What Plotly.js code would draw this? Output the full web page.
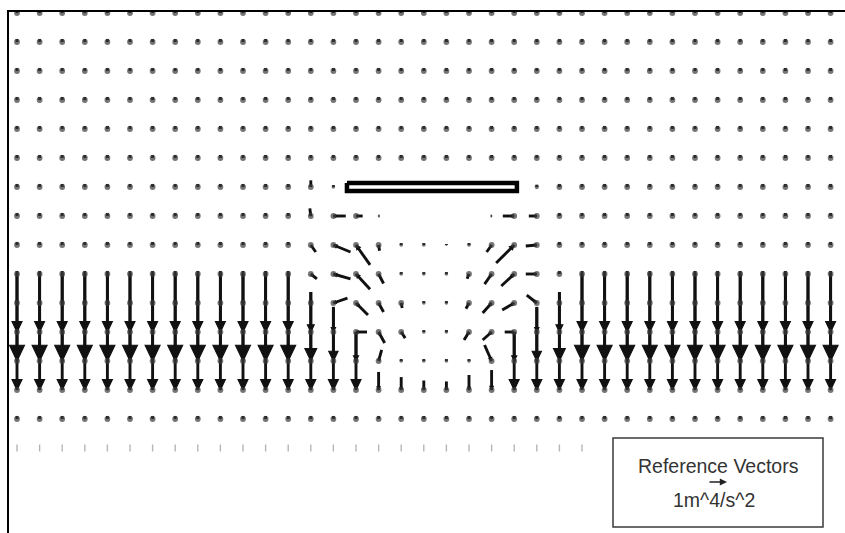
<!DOCTYPE html>
<html><head><meta charset="utf-8">
<script src="https://cdn.plot.ly/plotly-3.0.1.min.js"></script>
<style>html,body{margin:0;padding:0;background:#fff}#chart{width:845px;height:533px}</style>
</head><body><div id="chart"></div>
<script>
// ---------------- DATA ----------------
// grid columns (x) and rows (y, downward)
const colX = [0,1,2,3,4,5,6,7,8,9,10,11,12,13,14,15,16,17,18,19,20,21,22,23,24,25,26,27,28,29,30,31,32,33,34,35,36];
const rowY = [0,-1,-2,-3,-4,-5,-6,-7,-8,-9,-10,-11,-12,-13,-14,-15];

// vector components (m^4/s^2), one array per grid row; columns c0..c12 | c13..c24 | c25..c36
const uRow0  = [0,0,0,0,0,0,0,0,0,0,0,0,0, 0,0,0,0,0,0,0,0,0,0,0,0, 0,0,0,0,0,0,0,0,0,0,0,0];
const vRow0  = [-.16,-.16,-.16,-.16,-.16,-.16,-.16,-.16,-.16,-.16,-.16,-.16,-.16, -.16,-.16,-.16,-.16,-.16,-.16,-.16,-.16,-.16,-.16,-.16,-.16, -.16,-.16,-.16,-.16,-.16,-.16,-.16,-.16,-.16,-.16,-.16,-.16];
const uRow1  = [0,0,0,0,0,0,0,0,0,0,0,0,0, 0,0,0,0,0,0,0,0,0,0,0,0, 0,0,0,0,0,0,0,0,0,0,0,0];
const vRow1  = [-.16,-.16,-.16,-.16,-.16,-.16,-.16,-.16,-.16,-.16,-.16,-.16,-.16, -.16,-.16,-.16,-.16,-.16,-.16,-.16,-.16,-.16,-.16,-.16,-.16, -.16,-.16,-.16,-.16,-.16,-.16,-.16,-.16,-.16,-.16,-.16,-.16];
const uRow2  = [0,0,0,0,0,0,0,0,0,0,0,0,0, 0,0,0,0,0,0,0,0,0,0,0,0, 0,0,0,0,0,0,0,0,0,0,0,0];
const vRow2  = [-.16,-.16,-.16,-.16,-.16,-.16,-.16,-.16,-.16,-.16,-.16,-.16,-.16, -.16,-.16,-.16,-.16,-.16,-.16,-.16,-.16,-.16,-.16,-.16,-.16, -.16,-.16,-.16,-.16,-.16,-.16,-.16,-.16,-.16,-.16,-.16,-.16];
const uRow3  = [0,0,0,0,0,0,0,0,0,0,0,0,0, 0,0,0,0,0,0,0,0,0,0,0,0, 0,0,0,0,0,0,0,0,0,0,0,0];
const vRow3  = [-.16,-.16,-.16,-.16,-.16,-.16,-.16,-.16,-.16,-.16,-.16,-.16,-.16, -.16,-.16,-.16,-.16,-.16,-.16,-.16,-.16,-.16,-.16,-.16,-.16, -.16,-.16,-.16,-.16,-.16,-.16,-.16,-.16,-.16,-.16,-.16,-.16];
const uRow4  = [0,0,0,0,0,0,0,0,0,0,0,0,0, 0,0,0,0,0,0,0,0,0,0,0,0, 0,0,0,0,0,0,0,0,0,0,0,0];
const vRow4  = [-.16,-.16,-.16,-.16,-.16,-.16,-.16,-.16,-.16,-.16,-.16,-.16,-.16, -.16,-.16,-.16,-.16,-.16,-.16,-.16,-.16,-.16,-.16,-.16,-.16, -.16,-.16,-.16,-.16,-.16,-.16,-.16,-.16,-.16,-.16,-.16,-.16];
const uRow5  = [0,0,0,0,0,0,0,0,0,0,0,0,0, 0,0,0,0,0,0,0,0,0,0,0,0, 0,0,0,0,0,0,0,0,0,0,0,0];
const vRow5  = [-.16,-.16,-.16,-.16,-.16,-.16,-.16,-.16,-.16,-.16,-.16,-.16,-.16, -.16,-.16,-.16,-.16,-.16,-.16,-.16,-.16,-.16,-.16,-.16,-.16, -.16,-.16,-.16,-.16,-.16,-.16,-.16,-.16,-.16,-.16,-.16,-.16];
const uRow6  = [0,0,0,0,0,0,0,0,0,0,0,0,0, 0,0,0,0,0,0,0,0,0,0,0,0, 0,0,0,0,0,0,0,0,0,0,0,0];
const vRow6  = [-.16,-.16,-.16,-.16,-.16,-.16,-.16,-.16,-.16,-.16,-.16,-.16,-.16, -.35,-.1,0,0,0,0,0,0,0,0,-.12,-.16, -.16,-.16,-.16,-.16,-.16,-.16,-.16,-.16,-.16,-.16,-.16,-.16];
const uRow7  = [0,0,0,0,0,0,0,0,0,0,0,0,0, .05,-.65,-.35,-.05,0,0,0,0,.05,.6,.42,0, 0,0,0,0,0,0,0,0,0,0,0,0];
const vRow7  = [-.16,-.16,-.16,-.16,-.16,-.16,-.16,-.16,-.16,-.16,-.16,-.16,-.16, -.4,0,0,0,0,0,0,0,0,0,0,-.16, -.16,-.16,-.16,-.16,-.16,-.16,-.16,-.16,-.16,-.16,-.16,-.16];
const uRow8  = [0,0,0,0,0,0,0,0,0,0,0,0,0, -.26,-.9,-.74,-.05,0,0,0,0,.26,.95,.58,0, 0,0,0,0,0,0,0,0,0,0,0,0];
const vRow8  = [-.16,-.16,-.16,-.16,-.16,-.16,-.16,-.16,-.16,-.16,-.16,-.16,-.16, .37,.37,1.05,.3,-.1,-.1,-.05,-.1,.37,.95,.05,-.16, -.16,-.16,-.16,-.16,-.16,-.16,-.16,-.16,-.16,-.16,-.16,-.16];
const uRow9  = [0,0,0,0,0,0,0,0,0,0,0,0,0, -.32,-.9,-.74,-.26,0,0,0,.1,.37,.68,.58,0, 0,0,0,0,0,0,0,0,0,0,0,0];
const vRow9  = [-.16,-.16,-.16,-.16,-.16,-.16,-.16,-.16,-.16,-.16,-.16,-.16,-.16, .26,.26,.8,.5,-.1,-.1,-.1,.25,.53,.63,0,-.16, -.16,-.16,-.16,-.16,-.16,-.16,-.16,-.16,-.16,-.16,-.16,-.16];
const uRow10 = [0,0,0,0,0,0,0,0,0,0,0,0,0, 0,-.74,-.63,-.26,-.05,0,0,.16,.47,.63,.53,0, 0,0,0,0,0,0,0,0,0,0,0,0];
const vRow10 = [-.16,-.16,-.16,-.16,-.16,-.16,-.16,-.16,-.16,-.16,-.16,-.16,-.16, -.16,-.26,.63,.47,.26,-.1,-.1,.3,.53,.37,-.42,-.16, -.16,-.16,-.16,-.16,-.16,-.16,-.16,-.16,-.16,-.16,-.16,-.16];
const uRow11 = [0,0,0,0,0,0,0,0,0,0,0,0,0, 0,0,-.58,-.32,-.21,0,0,.26,.47,.5,0,0, 0,0,0,0,0,0,0,0,0,0,0,0];
const vRow11 = [-3.05,-3.05,-3.05,-3.05,-3.05,-3.05,-3.05,-3.05,-3.05,-3.05,-3.05,-3.05,-3.05, -2.1,-1.3,0,.58,.32,-.1,-.1,.42,.42,0,-1.3,-2.1, -3.05,-3.05,-3.05,-3.05,-3.05,-3.05,-3.05,-3.05,-3.05,-3.05,-3.05,-3.05];
const uRow12 = [0,0,0,0,0,0,0,0,0,0,0,0,0, 0,0,0,-.16,0,0,0,0,.37,0,0,0, 0,0,0,0,0,0,0,0,0,0,0,0];
const vRow12 = [-4.6,-4.6,-4.6,-4.6,-4.6,-4.6,-4.6,-4.6,-4.6,-4.6,-4.6,-4.6,-4.6, -3.63,-2.85,-1.53,-.58,-.1,-.1,-.1,-.1,-.84,-1.53,-2.85,-3.63, -4.6,-4.6,-4.6,-4.6,-4.6,-4.6,-4.6,-4.6,-4.6,-4.6,-4.6,-4.6];
const uRow13 = [0,0,0,0,0,0,0,0,0,0,0,0,0, 0,0,0,0,0,0,0,0,0,0,0,0, 0,0,0,0,0,0,0,0,0,0,0,0];
const vRow13 = [-3.05,-3.05,-3.05,-3.05,-3.05,-3.05,-3.05,-3.05,-3.05,-3.05,-3.05,-3.05,-3.05, -3.05,-3.05,-3.05,-.95,-.68,-.5,-.45,-.79,-1.05,-3.05,-3.05,-3.05, -3.05,-3.05,-3.05,-3.05,-3.05,-3.05,-3.05,-3.05,-3.05,-3.05,-3.05,-3.05];
const uRow14 = [0,0,0,0,0,0,0,0,0,0,0,0,0, 0,0,0,0,0,0,0,0,0,0,0,0, 0,0,0,0,0,0,0,0,0,0,0,0];
const vRow14 = [-.16,-.16,-.16,-.16,-.16,-.16,-.16,-.16,-.16,-.16,-.16,-.16,-.16, -.16,-.16,-.16,-.16,-.16,-.16,-.16,-.16,-.16,-.16,-.16,-.16, -.16,-.16,-.16,-.16,-.16,-.16,-.16,-.16,-.16,-.16,-.16,-.16];
const uRow15 = [0,0,0,0,0,0,0,0,0,0,0,0,0, 0,0,0,0,0,0,0,0,0,0,0,0, 0,0,0,0,0,0,0,0,0,0,0,0];
const vRow15 = [-.16,-.16,-.16,-.16,-.16,-.16,-.16,-.16,-.16,-.16,-.16,-.16,-.16, -.16,-.16,-.16,-.16,-.16,-.16,-.16,-.16,-.16,-.16,-.16,-.16, -.16,-.16,-.16,-.16,-.16,-.16,-.16,-.16,-.16,-.16,-.16,-.16];

// plate (structure) outline
const plateX = [14.6, 22.12];
const plateY = [-5.86, -6.14];

// reference vector
const refMagnitude = 1;
const refLabel = '1m^4/s^2';
const refTitle = 'Reference Vectors';

// ---------------- DRAWING ----------------
const uRows = [uRow0,uRow1,uRow2,uRow3,uRow4,uRow5,uRow6,uRow7,uRow8,uRow9,uRow10,uRow11,uRow12,uRow13,uRow14,uRow15];
const vRows = [vRow0,vRow1,vRow2,vRow3,vRow4,vRow5,vRow6,vRow7,vRow8,vRow9,vRow10,vRow11,vRow12,vRow13,vRow14,vRow15];

const W = 845, H = 533, ML = 9, MT = 12;
const PW = W - ML, PH = H - MT;
const PX_PER_COL = 22.6, PX_PER_ROW = 29;   // axis scale
const SCALE_PX = 19;                        // px per 1 m^4/s^2
const HEAD_LEN = 0.18, HEAD_HALF = 0.085;
const LIGHT_ROW = 15;

const xr0 = -8 / PX_PER_COL, xr1 = xr0 + PW / PX_PER_COL;
const yr1 = 1 / PX_PER_ROW, yr0 = yr1 - PH / PX_PER_ROW;

const shaftX = [], shaftY = [], headX = [], headY = [], dotX = [], dotY = [], dotS = [], lightX = [], lightY = [];
uRows.forEach((uRow, r) => {
  const vRow = vRows[r];
  colX.forEach((x0, c) => {
    const y0 = rowY[r];
    const u = uRow[c], v = vRow[c];
    const mag = Math.hypot(u, v);
    if (mag === 0) return;
    if (r === LIGHT_ROW) { lightX.push(x0); lightY.push(y0); return; }
    const dxp = u * SCALE_PX, dyp = -v * SCALE_PX, L = Math.hypot(dxp, dyp);
    const toData = (sx, sy) => [x0 + sx / PX_PER_COL, y0 - sy / PX_PER_ROW];
    const tail = toData(-dxp, -dyp);
    shaftX.push(tail[0], x0, null); shaftY.push(tail[1], y0, null);
    const ux = dxp / L, uy = dyp / L, hl = HEAD_LEN * L, hw = HEAD_HALF * L;
    const b1 = toData(-hl * ux - hw * uy, -hl * uy + hw * ux);
    const b2 = toData(-hl * ux + hw * uy, -hl * uy - hw * ux);
    headX.push(x0, b1[0], b2[0], x0, null); headY.push(y0, b1[1], b2[1], y0, null);
    dotX.push(x0); dotY.push(y0); dotS.push(Math.min(5.8, mag * 36));
  });
});

const ink = '#111111';
const traces = [
  {type:'scatter', mode:'lines', x:shaftX, y:shaftY, line:{color:ink, width:2.9}, hoverinfo:'skip'},
  {type:'scatter', mode:'lines', x:headX, y:headY, fill:'toself', fillcolor:ink, line:{color:ink, width:1.2}, hoverinfo:'skip'},
  {type:'scatter', mode:'markers', x:dotX, y:dotY, marker:{color:'#3a3a3a', size:dotS, line:{width:0}}, hoverinfo:'skip'},
  {type:'scatter', mode:'markers', x:lightX, y:lightY, marker:{symbol:'line-ns', size:5, line:{color:'#b5b5b5', width:1.4}}, hoverinfo:'skip'},
  {type:'scatter', mode:'lines', x:[plateX[0],plateX[1],plateX[1],plateX[0],plateX[0]], y:[plateY[0],plateY[0],plateY[1],plateY[1],plateY[0]],
   fill:'toself', fillcolor:'#ffffff', line:{color:'#000', width:4.5}, hoverinfo:'skip'}
];

const px2x = p => (p - ML) / PW;
const px2y = p => 1 - (p - MT) / PH;
const font = {family:'"Liberation Sans", Arial, sans-serif', size:19.5, color:'#333'};

const layout = {
  width:W, height:H, margin:{l:ML, r:0, t:MT, b:0, pad:0},
  paper_bgcolor:'#fff', plot_bgcolor:'#fff', showlegend:false,
  xaxis:{range:[xr0, xr1], side:'top', showline:true, linecolor:'#000', linewidth:2, showgrid:false, zeroline:false, showticklabels:false, ticks:''},
  yaxis:{range:[yr0, yr1], showline:true, linecolor:'#000', linewidth:2, showgrid:false, zeroline:false, showticklabels:false, ticks:''},
  shapes:[
    {type:'rect', xref:'paper', yref:'paper', x0:px2x(594), x1:px2x(845), y0:px2y(533), y1:px2y(433), fillcolor:'#fff', line:{width:0}, layer:'above'},
    {type:'rect', xref:'paper', yref:'paper', x0:px2x(613), x1:px2x(823), y0:px2y(527), y1:px2y(438), line:{color:'#3a3a3a', width:1.5}, layer:'above'}
  ],
  annotations:[
    {xref:'paper', yref:'paper', x:px2x(718), y:px2y(466), text:refTitle, showarrow:false, xanchor:'center', yanchor:'middle', font:font},
    {xref:'paper', yref:'paper', x:px2x(714), y:px2y(500), text:refLabel, showarrow:false, xanchor:'center', yanchor:'middle', font:font},
    {xref:'paper', yref:'paper', x:px2x(727), y:px2y(482), text:'', showarrow:true, axref:'pixel', ayref:'pixel',
     ax:-refMagnitude * SCALE_PX, ay:0, arrowhead:2, arrowsize:0.9, arrowwidth:1.6, arrowcolor:'#222', standoff:0}
  ]
};

Plotly.newPlot('chart', traces, layout, {staticPlot:true, displayModeBar:false});
</script>
</body></html>
